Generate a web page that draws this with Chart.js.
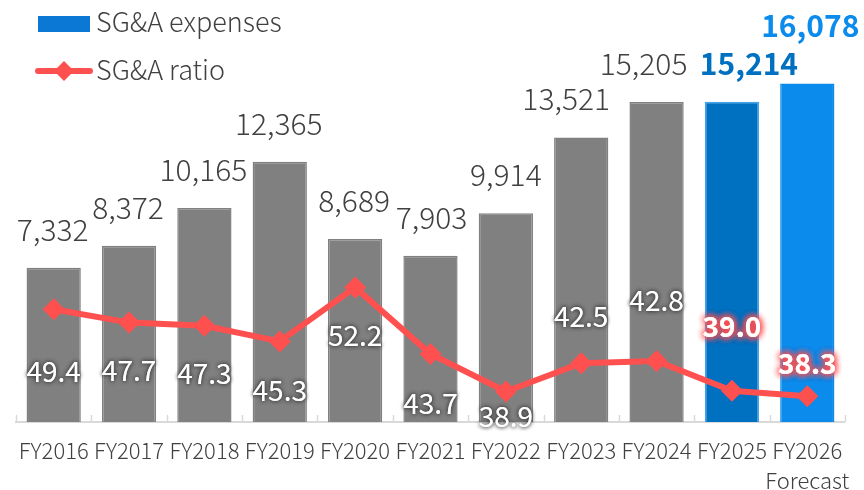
<!DOCTYPE html>
<html>
<head>
<meta charset="utf-8">
<script src="https://cdn.jsdelivr.net/npm/chart.js@4"></script>
<style>
  html, body { margin: 0; padding: 0; background: #ffffff; }
  #wrap { width: 864px; height: 490px; }
</style>
</head>
<body>
<div id="wrap"><canvas id="sgaChart" width="864" height="490"></canvas></div>
<script>
// datos
const categories = ['FY2016', 'FY2017', 'FY2018', 'FY2019', 'FY2020', 'FY2021', 'FY2022', 'FY2023', 'FY2024', 'FY2025', ['FY2026', 'Forecast']];
const sgaExpenses = [7332, 8372, 10165, 12365, 8689, 7903, 9914, 13521, 15205, 15214, 16078];
const sgaRatio = [49.4, 47.7, 47.3, 45.3, 52.2, 43.7, 38.9, 42.5, 42.8, 39.0, 38.3];

// estilos por barra / etiqueta
const barColors = ['#808080', '#808080', '#808080', '#808080', '#808080', '#808080', '#808080', '#808080', '#808080', '#0070C0', '#0B8BEB'];
const barBorders = ['#808080', '#808080', '#808080', '#808080', '#808080', '#808080', '#808080', '#808080', '#808080', '#3FA2EC', '#0B8BEB'];
const barLabelColors = ['#404040', '#404040', '#404040', '#404040', '#404040', '#404040', '#404040', '#404040', '#404040', '#0070C0', '#0B8BEB'];
const barLabelLift = [27, 27, 27, 27, 27, 27, 27, 27, 27, 27, 47];
const barLabelShift = [-1, -1, -1, -1, -1, 1, 0, -15, -13, 17, 3];
const ratioLabelOffset = [62, 48, 48, 49, 48, 49, 25, -47, -61, -64, -33];
const highlighted = [false, false, false, false, false, false, false, false, false, true, true];

const FONT = '"Noto Sans CJK JP", "Noto Sans", sans-serif';
const LINE_RED = '#FF5050';

const labelsPlugin = {
    id: 'labelsPlugin',
    afterDatasetsDraw(chart) {
        const ctx = chart.ctx;
        const barMeta = chart.getDatasetMeta(1);
        const lineMeta = chart.getDatasetMeta(0);
        ctx.save();
        ctx.textAlign = 'center';

        // etiquetas de las barras
        barMeta.data.forEach((bar, i) => {
            ctx.font = (highlighted[i] ? 'bold ' : '300 ') + '30px ' + FONT;
            ctx.fillStyle = barLabelColors[i];
            ctx.textBaseline = 'alphabetic';
            ctx.fillText(sgaExpenses[i].toLocaleString('en-US'), bar.x + barLabelShift[i], bar.y - barLabelLift[i]);
        });

        // etiquetas del ratio
        lineMeta.data.forEach((pt, i) => {
            const txt = sgaRatio[i].toFixed(1);
            const y = pt.y + ratioLabelOffset[i];
            ctx.textBaseline = 'middle';
            if (highlighted[i]) {
                ctx.font = 'bold 28px ' + FONT;
                ctx.shadowColor = LINE_RED;
                ctx.shadowBlur = 7;
                ctx.fillStyle = '#ffffff';
                for (let k = 0; k < 4; k++) ctx.fillText(txt, pt.x, y);
            } else {
                ctx.font = '28px ' + FONT;
                ctx.shadowColor = 'rgba(50,50,50,0.85)';
                ctx.shadowBlur = 4;
                ctx.fillStyle = '#ffffff';
                for (let k = 0; k < 2; k++) ctx.fillText(txt, pt.x, y);
            }
        });
        ctx.restore();
    },
    afterDraw(chart) {
        const ctx = chart.ctx;
        const xs = chart.scales.x;
        const area = chart.chartArea;
        ctx.save();

        // marcas del eje hacia dentro
        ctx.strokeStyle = '#D9D9D9';
        ctx.lineWidth = 1.5;
        const n = categories.length;
        const step = (xs.right - xs.left) / n;
        for (let i = 0; i <= n; i++) {
            const x = Math.round(xs.left + i * step) + 0.5;
            ctx.beginPath();
            ctx.moveTo(x, area.bottom);
            ctx.lineTo(x, area.bottom - 7);
            ctx.stroke();
        }

        // leyenda
        ctx.fillStyle = '#0A78D4';
        ctx.fillRect(38, 16, 52, 16);
        ctx.strokeStyle = LINE_RED;
        ctx.lineWidth = 6;
        ctx.lineCap = 'round';
        ctx.beginPath();
        ctx.moveTo(38, 71);
        ctx.lineTo(90, 71);
        ctx.stroke();
        ctx.fillStyle = LINE_RED;
        ctx.beginPath();
        ctx.moveTo(64, 61);
        ctx.lineTo(74, 71);
        ctx.lineTo(64, 81);
        ctx.lineTo(54, 71);
        ctx.closePath();
        ctx.fill();

        ctx.fillStyle = '#404040';
        ctx.font = '300 27px ' + FONT;
        ctx.textAlign = 'left';
        ctx.textBaseline = 'middle';
        ctx.fillText(chart.data.datasets[1].label, 96, 22);
        ctx.fillText(chart.data.datasets[0].label, 96, 70);
        ctx.restore();
    }
};

const ctx = document.getElementById('sgaChart');
new Chart(ctx, {
    data: {
        labels: categories,
        datasets: [{
            type: 'line',
            label: 'SG&A ratio',
            data: sgaRatio,
            yAxisID: 'y1',
            borderColor: LINE_RED,
            backgroundColor: LINE_RED,
            borderWidth: 6,
            pointStyle: 'rectRot',
            pointRadius: 11,
            pointBorderWidth: 0,
            pointBackgroundColor: LINE_RED,
            tension: 0,
            order: 0
        }, {
            type: 'bar',
            label: 'SG&A expenses',
            data: sgaExpenses,
            yAxisID: 'y',
            backgroundColor: barColors,
            borderColor: barBorders,
            borderWidth: 1.5,
            barPercentage: 0.72,
            categoryPercentage: 1.0,
            order: 1
        }]
    },
    options: {
        responsive: false,
        animation: false,
        layout: {
            autoPadding: false,
            padding: { left: 16, right: 16, top: 1, bottom: 0 }
        },
        plugins: {
            legend: { display: false },
            tooltip: { enabled: false }
        },
        scales: {
            x: {
                grid: { display: false, drawTicks: false },
                border: { display: true, color: '#D9D9D9', width: 2 },
                ticks: {
                    autoSkip: false,
                    maxRotation: 0,
                    padding: 14,
                    color: '#404040',
                    font: { family: FONT, size: 22, weight: '300', lineHeight: 1.36 }
                },
                afterFit: (scale) => { scale.height = 68; }
            },
            y: {
                display: false,
                min: 0,
                max: 20000
            },
            y1: {
                display: false,
                position: 'right',
                min: 35,
                max: 88.8
            }
        }
    },
    plugins: [labelsPlugin]
});
</script>
</body>
</html>
